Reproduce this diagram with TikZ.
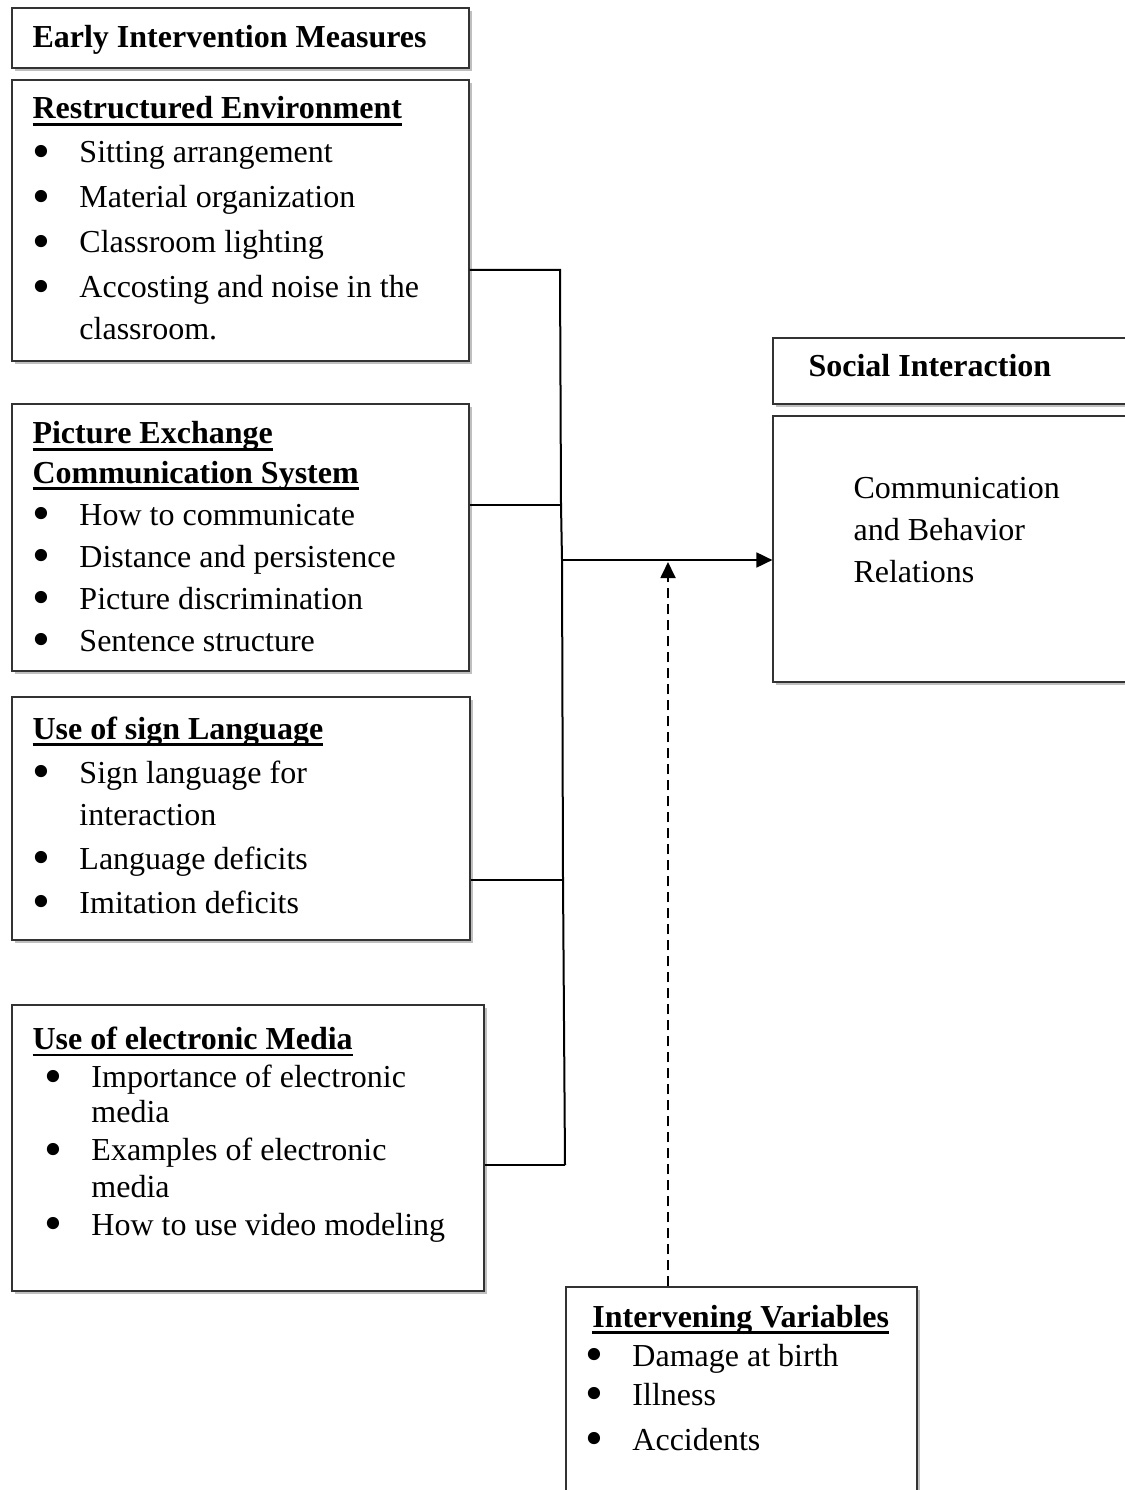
\documentclass[tikz,border=0pt]{standalone}
\usepackage{fontspec}
\usepackage{graphicx}
\setmainfont{Liberation Serif}
\usetikzlibrary{arrows.meta, fit, shadows}
\tikzstyle{box} = [rectangle, draw=black!80, line width=0.45pt, fill=white, inner sep=0pt,
    drop shadow={shadow xshift=1.1pt, shadow yshift=-1.1pt, fill=black!25, opacity=1}]
\tikzstyle{txt} = [anchor=base west, align=left, inner sep=0pt]
\tikzstyle{line} = [line width=0.75pt]
\tikzstyle{arrow} = [line width=0.75pt, -{Triangle[length=6pt, width=5.6pt]}]

\newcommand{\hdr}[1]{\setbox0\hbox{\bfseries #1}\rlap{\rule[-2.6pt]{\wd0}{1.1pt}}\box0}
\newcommand{\bul}{\makebox[17.6pt][l]{\raisebox{-2.1pt}{\scalebox{1.6}{\textbullet}}}}
\newcommand{\ind}{\hspace*{17.6pt}}

\begin{document}
\begin{tikzpicture}[x=0.375pt, y=-0.375pt]
  \useasboundingbox (0,0) rectangle (1124,1490);

  % left column (text nodes sit on the baseline of their last line)
  \node (early) [box, fit={(12,8) (469,68)}] {};
  \node (earlyT) [txt, font=\fontsize{12}{16.5}\selectfont] at (32,48) {\bfseries Early Intervention Measures};

  \node (restr) [box, fit={(12,80) (469,361)}] {};
  \node (restrT) [txt, font=\fontsize{12}{16.9}\selectfont] at (32,340)
    {\hdr{Restructured Environment}\\[-0.4pt]
     \bul Sitting arrangement\\
     \bul Material organization\\
     \bul Classroom lighting\\
     \bul Accosting and noise in the\\[-1.1pt]
     \ind classroom.};

  \node (pecs) [box, fit={(12,404) (469,671)}] {};
  \node (pecsT) [txt, font=\fontsize{12}{15.75}\selectfont] at (32,651)
    {\hdr{Picture Exchange}\\[-1.1pt]
     \hdr{Communication System}\\
     \bul How to communicate\\
     \bul Distance and persistence\\
     \bul Picture discrimination\\
     \bul Sentence structure};

  \node (sign) [box, fit={(12,697) (470,940)}] {};
  \node (signT) [txt, font=\fontsize{12}{16.5}\selectfont] at (32,913)
    {\hdr{Use of sign Language}\\
     \bul Sign language for\\[-0.8pt]
     \ind interaction\\
     \bul Language deficits\\
     \bul Imitation deficits};

  \node (media) [box, fit={(12,1005) (484,1291)}] {};
  \node (mediaT) [txt, font=\fontsize{12}{14.25}\selectfont] at (32,1235)
    {\hdr{Use of electronic Media}\\
     \hspace*{4.5pt}\bul Importance of electronic\\[-1.1pt]
     \hspace*{4.5pt}\ind media\\
     \hspace*{4.5pt}\bul Examples of electronic\\[-0.6pt]
     \hspace*{4.5pt}\ind media\\
     \hspace*{4.5pt}\bul How to use video modeling};

  % right column
  \node (social) [box, fit={(773,338) (1140,404)}] {};
  \node (socialT) [txt, font=\fontsize{12}{16}\selectfont] at (808,377) {\bfseries Social Interaction};

  \node (comm) [box, fit={(773,416) (1140,682)}] {};
  \node (commT) [txt, font=\fontsize{12}{15.75}\selectfont] at (853,582)
    {Communication\\ and Behavior\\ Relations};

  \node (interv) [box, fit={(566,1287) (917,1520)}] {};
  \node (intervT) [txt, font=\fontsize{12}{14.6}\selectfont] at (585,1450)
    {\hspace*{2.6pt}\hdr{Intervening Variables}\\
     \bul Damage at birth\\
     \bul Illness\\[2.2pt]
     \bul Accidents};

  % connectors
  \coordinate (b1) at (560,270);
  \coordinate (b2) at (561,505);
  \coordinate (b3) at (562,560);
  \coordinate (b4) at (563,880);
  \coordinate (b5) at (565,1165);
  \coordinate (d1) at (668,562);

  \draw[line] (restr.east |- b1) -- (b1) -- (b2) -- (b3) -- (b4) -- (b5);
  \draw[line] (pecs.east |- b2)  -- (b2);
  \draw[line] (sign.east |- b4)  -- (b4);
  \draw[line] (media.east |- b5) -- (b5);
  \draw[arrow] (b3) -- (comm.west |- b3);
  \draw[arrow, dash pattern=on 3.75pt off 2.25pt] (interv.north -| d1) -- (d1);
\end{tikzpicture}
\end{document}
